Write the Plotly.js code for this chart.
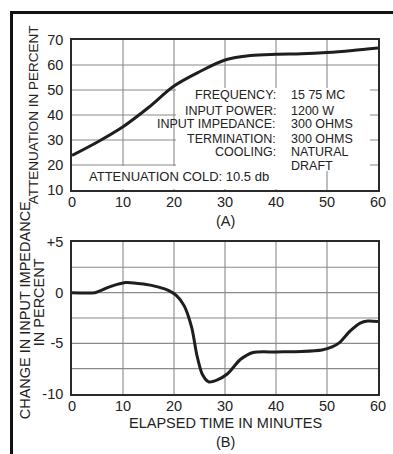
<!DOCTYPE html>
<html>
<head>
<meta charset="utf-8">
<script src="https://cdn.plot.ly/plotly-3.0.1.min.js"></script>
<style>
html,body{margin:0;padding:0;background:#fff;}
#wrap{position:relative;width:393px;height:454px;}
#chart{width:393px;height:454px;}
.rule{position:absolute;background:#111;z-index:10;pointer-events:none;}
#ruleTop{left:10px;top:11px;width:383px;height:2.5px;}
#ruleLeft{left:10px;top:11px;width:2.5px;height:443px;}
</style>
</head>
<body>
<div id="wrap">
<div id="chart"></div>
<div class="rule" id="ruleTop"></div>
<div class="rule" id="ruleLeft"></div>
</div>
<script>
// Chart (A): attenuation in percent vs elapsed time (minutes)
const timeA = [0, 5, 10, 15, 20, 25, 30, 35, 40, 45, 50, 55, 60];
const attenuation = [23.8, 29.2, 35.3, 43.0, 51.6, 57.3, 62.0, 63.8, 64.3, 64.5, 65.0, 65.8, 66.8];

// Chart (B): change in input impedance in percent vs elapsed time (minutes)
const timeB = [0, 4.5, 7.5, 10.5, 14, 17, 19, 20.5, 22, 23.5, 24.5, 25.5, 26.8, 28.5, 30.5, 33, 35.5, 40, 45, 49, 51, 52.5, 54.5, 56.5, 58, 60];
const impedanceChange = [0, 0, 0.6, 1.0, 0.85, 0.55, 0.2, -0.3, -1.3, -3.5, -6.2, -8.0, -8.8, -8.6, -8.0, -6.6, -5.9, -5.85, -5.8, -5.65, -5.35, -4.9, -3.8, -3.0, -2.8, -2.85];

const xTicks = [0, 10, 20, 30, 40, 50, 60];
const yTicksA = [10, 20, 30, 40, 50, 60, 70];
const yTicksB = [-10, -7.5, -5, -2.5, 0, 2.5, 5];
const yTickTextB = ["-10", "", "-5", "", "0", "", "+5"];

const infoLabels = ["FREQUENCY:", "INPUT POWER:", "INPUT IMPEDANCE:", "TERMINATION:", "COOLING:", ""];
const infoValues = ["15 75 MC", "1200 W", "300 OHMS", "300 OHMS", "NATURAL", "DRAFT"];
const infoRowY = [48, 41.8, 36.4, 30.4, 25, 19.6];
const coldNote = "ATTENUATION COLD: 10.5 db";

const FONT = "Liberation Sans, Arial, sans-serif";
const INK = "#222";
const GRID = "#8a8a8a";
const rangeX = [0, 60], rangeA = [10, 70], rangeB = [-10, 5];

// grid drawn as line traces built from the tick arrays and axis ranges
function gridTrace(xt, yt, xr, yr, xa, ya) {
  const gx = [], gy = [];
  xt.forEach(v => { if (v > xr[0] && v < xr[1]) { gx.push(v, v, null); gy.push(yr[0], yr[1], null); } });
  yt.forEach(v => { if (v > yr[0] && v < yr[1]) { gx.push(xr[0], xr[1], null); gy.push(v, v, null); } });
  return {x: gx, y: gy, xaxis: xa, yaxis: ya, mode: "lines", line: {color: GRID, width: 1.1},
          hoverinfo: "skip", connectgaps: false};
}

const traces = [
  gridTrace(xTicks, yTicksA, rangeX, rangeA, "x", "y"),
  gridTrace(xTicks, yTicksB, rangeX, rangeB, "x2", "y2"),
  {x: timeA, y: attenuation, xaxis: "x", yaxis: "y", mode: "lines",
   line: {color: "#1e1e1e", width: 3, shape: "spline", smoothing: 0.9}},
  {x: timeB, y: impedanceChange, xaxis: "x2", yaxis: "y2", mode: "lines",
   line: {color: "#1e1e1e", width: 3, shape: "spline", smoothing: 0.7}}
];

const annotations = [
  // white panels behind the legend text (they hide the grid, as in the original)
  {xref: "x", yref: "y", x: 39.5, y: 34.25, text: " ", showarrow: false, width: 194, height: 83,
   bgcolor: "#fff", borderpad: 0, borderwidth: 0, xanchor: "center", yanchor: "middle"},
  {xref: "x", yref: "y", x: 20.65, y: 15.0, text: " ", showarrow: false, width: 207, height: 23,
   bgcolor: "#fff", borderpad: 0, borderwidth: 0, xanchor: "center", yanchor: "middle"}
];
infoLabels.forEach((t, i) => {
  if (t) annotations.push({xref: "x", yref: "y", x: 40.4, y: infoRowY[i], text: t, showarrow: false,
    xanchor: "right", yanchor: "middle", font: {family: FONT, size: 12.5, color: INK}});
  annotations.push({xref: "x", yref: "y", x: 42.6, y: infoRowY[i], text: infoValues[i], showarrow: false,
    xanchor: "left", yanchor: "middle", font: {family: FONT, size: 12.5, color: INK}});
});
annotations.push({xref: "x", yref: "y", x: 3.0, y: 15.2, text: coldNote, showarrow: false,
  xanchor: "left", yanchor: "middle", font: {family: FONT, size: 13, color: INK}});
annotations.push({xref: "paper", yref: "paper", x: -0.1275, y: 0.79, text: "ATTENUATION IN PERCENT",
  textangle: -90, showarrow: false, xanchor: "center", yanchor: "middle", font: {family: FONT, size: 13.5, color: INK}});
annotations.push({xref: "paper", yref: "paper", x: -0.153, y: 0.237, text: "CHANGE IN INPUT IMPEDANCE",
  textangle: -90, showarrow: false, xanchor: "center", yanchor: "middle", font: {family: FONT, size: 14.5, color: INK}});
annotations.push({xref: "paper", yref: "paper", x: -0.107, y: 0.26, text: "IN PERCENT",
  textangle: -90, showarrow: false, xanchor: "center", yanchor: "middle", font: {family: FONT, size: 14.5, color: INK}});
annotations.push({xref: "paper", yref: "paper", x: 0.5, y: 0.49, text: "(A)", showarrow: false,
  xanchor: "center", yanchor: "middle", font: {family: FONT, size: 14.5, color: INK}});
annotations.push({xref: "paper", yref: "paper", x: 0.5, y: -0.081, text: "ELAPSED TIME IN MINUTES", showarrow: false,
  xanchor: "center", yanchor: "middle", font: {family: FONT, size: 14.5, color: INK}});
annotations.push({xref: "paper", yref: "paper", x: 0.5, y: -0.1356, text: "(B)", showarrow: false,
  xanchor: "center", yanchor: "middle", font: {family: FONT, size: 14.5, color: INK}});

const tf = {family: FONT, size: 14.5, color: INK};
const frame = {showgrid: false, showline: true, mirror: true,
  linecolor: "#2a2a2a", linewidth: 1.6, zeroline: false, ticks: "", tickfont: tf};

const layout = {
  width: 393, height: 454,
  margin: {l: 72, r: 15, t: 40, b: 60},
  showlegend: false,
  hovermode: false,
  xaxis: Object.assign({}, frame, {domain: [0, 1], anchor: "y", range: rangeX, tickvals: xTicks, ticklabelstandoff: -2}),
  yaxis: Object.assign({}, frame, {domain: [0.5763, 1], anchor: "x", range: rangeA, tickvals: yTicksA, ticklabelstandoff: 4}),
  xaxis2: Object.assign({}, frame, {domain: [0, 1], anchor: "y2", range: rangeX, tickvals: xTicks, ticklabelstandoff: -2}),
  yaxis2: Object.assign({}, frame, {domain: [0, 0.4294], anchor: "x2", range: rangeB, tickvals: yTicksB,
    ticktext: yTickTextB, ticklabelstandoff: 4}),
  annotations: annotations
};

Plotly.newPlot("chart", traces, layout, {displayModeBar: false});
</script>
</body>
</html>
